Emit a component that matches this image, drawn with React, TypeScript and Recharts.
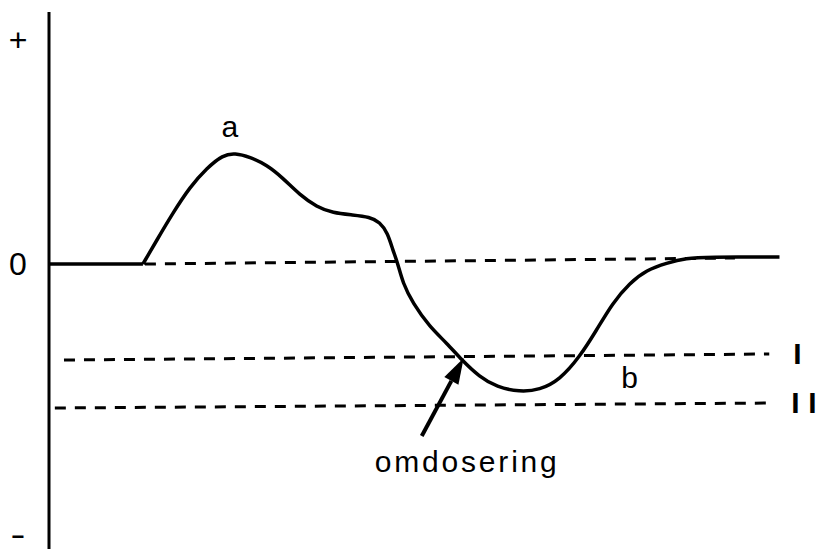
import { ComposedChart, Line, XAxis, YAxis, ReferenceLine, ReferenceDot } from 'recharts';

// ─── Data (time units, response units; 0 = baseline) ─────────────────────────

// flat start, up to the moment the dose response begins
const flatTime = [0, 12.86];
const flatResponse = [0, 0];

// the response wave, from its start to the new steady state
const waveTime = [
  12.86, 14.77, 16.96, 19.29, 21.61, 23.8, 25.44, 27.5, 29.82,
  32.01, 34.34, 36.66, 38.85, 41.59, 43.91, 45.28, 46.37, 47.06, 47.74,
  48.43, 49.79, 52.12, 54.45, 56.5, 58.96, 61.29, 64.43, 67.17, 69.9,
  72.64, 74.97, 77.15, 79.48, 81.81, 84.54, 87.28, 90.01, 100,
];
const waveResponse = [
  0, 0.96, 2.04, 3.08, 3.84, 4.36, 4.44, 4.28, 3.96,
  3.44, 2.76, 2.28, 2.04, 1.96, 1.88, 1.68, 1.24, 0.56, 0.04,
  -0.76, -1.56, -2.52, -3.16, -3.84, -4.52, -4.92, -5.12, -5.04, -4.64,
  -3.72, -2.64, -1.56, -0.76, -0.24, 0.04, 0.24, 0.28, 0.28,
];

const yTicks = [8.96, 0, -10.92];
const yTickLabels = ['+', '0', '−'];

// dashed levels: [start t, end t], [start v, end v]
const zeroLevelT = [13.13, 93.9];
const zeroLevelV = [0, 0.24];
const levelIT = [2.05, 98.6];
const levelIV = [-3.84, -3.6];
const levelIIT = [0.8, 99.3];
const levelIIV = [-5.76, -5.56];

const arrowT = [51.03, 56.77];
const arrowV = [-6.88, -3.76];

const data = [
  ...flatTime.slice(0, -1).map((t, i) => ({ t, flat: flatResponse[i], wave: null as number | null })),
  { t: flatTime[flatTime.length - 1], flat: flatResponse[flatResponse.length - 1], wave: waveResponse[0] },
  ...waveTime.slice(1).map((t, i) => ({ t, flat: null as number | null, wave: waveResponse[i + 1] })),
];

const FONT = '"Liberation Sans", Arial, Helvetica, sans-serif';

// ─── Shapes ───────────────────────────────────────────────────────────────────

// dashed level line with an optional roman numeral at its right end
function dashedLevel(label: string, offset = 0) {
  // eslint-disable-next-line @typescript-eslint/no-explicit-any
  return (p: any) => (
    <g>
      <line
        x1={p.x1} y1={p.y1} x2={p.x2} y2={p.y2}
        stroke="#000" strokeWidth={3} strokeDasharray="11 9"
      />
      {label && (
        <text
          x={p.x2 + offset} y={p.y2 + 10}
          fontFamily={FONT} fontSize={30} fontWeight="bold" fill="#000"
        >
          {label.split('').map((ch, i) => (
            <tspan key={i} dx={i === 0 ? 0 : 8.5}>{ch}</tspan>
          ))}
        </text>
      )}
    </g>
  );
}

// eslint-disable-next-line @typescript-eslint/no-explicit-any
function Arrow(p: any) {
  const { x1, y1, x2, y2 } = p;
  const dx = x2 - x1, dy = y2 - y1;
  const len = Math.sqrt(dx * dx + dy * dy);
  const ux = dx / len, uy = dy / len;
  const head = 26, half = 8;
  const bx = x2 - ux * head, by = y2 - uy * head;
  return (
    <g>
      <line x1={x1} y1={y1} x2={bx} y2={by} stroke="#000" strokeWidth={4} />
      <polygon
        points={`${x2},${y2} ${bx - uy * half},${by + ux * half} ${bx + uy * half},${by - ux * half}`}
        fill="#000"
      />
    </g>
  );
}

function textMark(label: string, size: number, spacing = 0) {
  // eslint-disable-next-line @typescript-eslint/no-explicit-any
  return (p: any) => (
    <text
      x={p.cx} y={p.cy} textAnchor="middle" fontFamily={FONT}
      fontSize={size} letterSpacing={spacing} fill="#000"
    >
      {label}
    </text>
  );
}

// eslint-disable-next-line @typescript-eslint/no-explicit-any
function YTick(p: any) {
  const idx = yTicks.indexOf(p.payload.value);
  const last = idx === yTicks.length - 1;
  return (
    <text
      x={18} y={p.y + (last ? 7 : 11)} textAnchor="middle"
      fontFamily={FONT} fontSize={last ? 22 : 32} fontWeight={last ? 'bold' : 'normal'} fill="#000"
    >
      {yTickLabels[idx] ?? ''}
    </text>
  );
}

// ─── Component ────────────────────────────────────────────────────────────────

export default function App() {
  return (
    <div style={{ position: 'absolute', left: 0, top: 0, background: '#fff' }}>
      <ComposedChart
        width={816}
        height={549}
        data={data}
        margin={{ top: 12, right: 0, bottom: 0, left: 0 }}
      >
        <XAxis type="number" dataKey="t" domain={[0, 105]} allowDataOverflow hide />
        <YAxis
          type="number"
          domain={[-11.4, 10.08]}
          allowDataOverflow
          ticks={yTicks}
          interval={0}
          width={49}
          tickLine={false}
          axisLine={{ stroke: '#000', strokeWidth: 3 }}
          tick={<YTick />}
        />

        <ReferenceLine
          segment={[{ x: zeroLevelT[0], y: zeroLevelV[0] }, { x: zeroLevelT[1], y: zeroLevelV[1] }]}
          shape={dashedLevel('')}
        />
        <ReferenceLine
          segment={[{ x: levelIT[0], y: levelIV[0] }, { x: levelIT[1], y: levelIV[1] }]}
          shape={dashedLevel('I', 24)}
        />
        <ReferenceLine
          segment={[{ x: levelIIT[0], y: levelIIV[0] }, { x: levelIIT[1], y: levelIIV[1] }]}
          shape={dashedLevel('II', 17)}
        />

        <Line
          type="linear"
          dataKey="flat"
          stroke="#000"
          strokeWidth={3.5}
          dot={false}
          activeDot={false}
          isAnimationActive={false}
        />
        <Line
          type="basis"
          dataKey="wave"
          stroke="#000"
          strokeWidth={3.5}
          strokeLinejoin="round"
          dot={false}
          activeDot={false}
          isAnimationActive={false}
        />

        <ReferenceLine
          segment={[{ x: arrowT[0], y: arrowV[0] }, { x: arrowT[1], y: arrowV[1] }]}
          shape={Arrow}
        />

        <ReferenceDot x={24.76} y={5.08} r={0} shape={textMark('a', 30)} />
        <ReferenceDot x={79.48} y={-4.96} r={0} shape={textMark('b', 30)} />
        <ReferenceDot x={57.25} y={-8.32} r={0} shape={textMark('omdosering', 30, 2.8)} />
      </ComposedChart>
    </div>
  );
}
